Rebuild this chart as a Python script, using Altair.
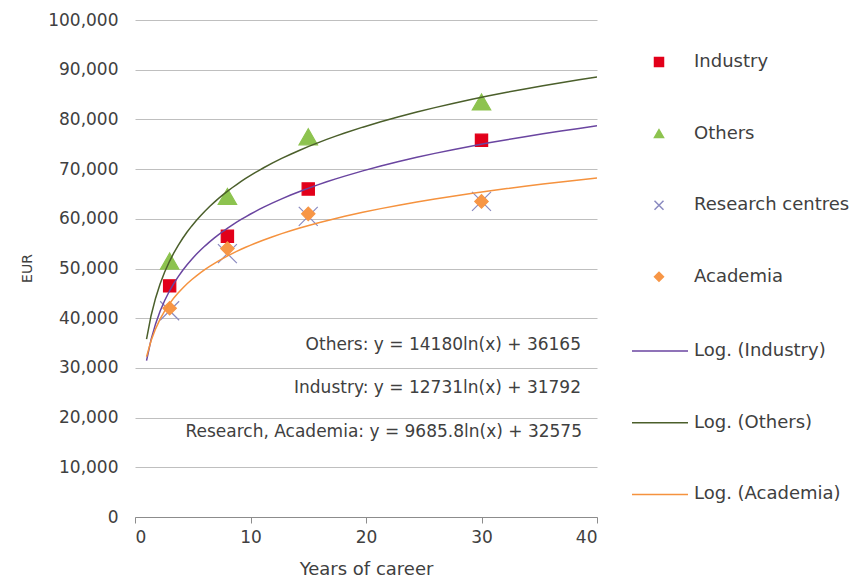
import altair as alt
import pandas as pd

# ---- data ----
years = [3, 8, 15, 30]
industry = [46500, 56500, 66000, 75800]
others = [51500, 64500, 76500, 83500]
research_centres = [41500, 53000, 60500, 63500]
academia = [42000, 54000, 61000, 63500]

series_names = ["Industry", "Others", "Research centres", "Academia"]
series_trend = ["Log. (Industry)", "Log. (Others)", "Log. (Academia)", "Log. (Academia)"]
trend_names = ["Log. (Industry)", "Log. (Others)", "Log. (Academia)"]
equation_labels = [
    "Others: y = 14180ln(x) + 36165",
    "Industry: y = 12731ln(x) + 31792",
    "Research, Academia: y = 9685.8ln(x) + 32575",
]
x_ticks = [0, 10, 20, 30, 40]
y_ticks = [0, 10000, 20000, 30000, 40000, 50000, 60000, 70000, 80000, 90000, 100000]

rows = []
for name, trend, vals in zip(series_names, series_trend,
                             [industry, others, research_centres, academia]):
    for yr, v in zip(years, vals):
        rows.append({"series": name, "trend": trend, "year": yr, "value": v})
df = pd.DataFrame(rows)

# ---- styles ----
FONT = "DejaVu Sans"
TXT = "#404040"
marker_colors = ["#E2001A", "#8DC34F", "#8A8AC0", "#F79646"]
marker_shapes = ["square", "triangle-up", "M-1,-1L1,1M-1,1L1,-1", "diamond"]
marker_sizes = [150, 340, 360, 180]
line_colors = ["#6A45A0", "#4B5F2B", "#F5923E"]

x_enc = alt.X("year:Q",
              scale=alt.Scale(domain=[0, 40], nice=False),
              axis=alt.Axis(values=x_ticks, grid=False, title="Years of career",
                            domainColor="#8C8C8C", tickColor="#8C8C8C", tickSize=6,
                            labelPadding=6, labelFont=FONT, labelFontSize=17,
                            labelColor=TXT, titleFont=FONT, titleFontSize=18,
                            titleFontWeight="normal", titleColor=TXT,
                            titleBaseline="alphabetic", titleY=57))
y_enc = alt.Y("value:Q",
              scale=alt.Scale(domain=[0, 100000], nice=False),
              axis=alt.Axis(values=y_ticks, format=",.0f", grid=True, gridColor="#BFBFBF",
                            ticks=False, domain=False, labelPadding=17,
                            labelFont=FONT, labelFontSize=17, labelColor=TXT,
                            title="EUR", titleFont=FONT, titleFontSize=14,
                            titleFontWeight="normal", titleColor=TXT,
                            titleX=-101, titleY=248))

leg_points = alt.Legend(title=None, orient="none", legendX=515, legendY=33,
                        padding=0, symbolSize=81, symbolStrokeWidth=1.5,
                        labelFont=FONT, labelFontSize=18, labelColor=TXT,
                        labelOffset=26, rowPadding=53.6)
leg_lines = alt.Legend(title=None, orient="none", legendX=516, legendY=322,
                       padding=0, symbolType="M-28,0L28,0", symbolSize=4,
                       symbolStrokeWidth=1.5, labelFont=FONT, labelFontSize=18,
                       labelColor=TXT, labelOffset=25, rowPadding=53.7)

base = alt.Chart(df)

fill_enc = alt.Fill("series:N", scale=alt.Scale(domain=series_names, range=marker_colors),
                    legend=leg_points)
stroke_enc = alt.Stroke("series:N", scale=alt.Scale(domain=series_names, range=marker_colors),
                        legend=leg_points)
shape_enc = alt.Shape("series:N", scale=alt.Scale(domain=series_names, range=marker_shapes),
                      legend=leg_points)

point_layers = []
for name, size in zip(series_names, marker_sizes):
    point_layers.append(
        base.transform_filter(alt.datum.series == name)
        .mark_point(opacity=1, strokeWidth=1.2, size=size)
        .encode(x=x_enc, y=y_enc, fill=fill_enc, stroke=stroke_enc, shape=shape_enc)
    )

lines = base.transform_regression(
    "year", "value", groupby=["trend"], method="log", extent=[1, 40]
).mark_line(strokeWidth=1.5, clip=True).encode(
    x="year:Q", y="value:Q",
    color=alt.Color("trend:N", scale=alt.Scale(domain=trend_names, range=line_colors),
                    legend=leg_lines),
)

ann_pos = [(446, 325), (446, 368), (447, 412)]
anns = []
for label, (px, py) in zip(equation_labels, ann_pos):
    anns.append(
        alt.Chart(pd.DataFrame({"label": [label]})).mark_text(
            align="right", baseline="middle", font=FONT, fontSize=17, color=TXT
        ).encode(x=alt.value(px), y=alt.value(py), text="label:N")
    )

chart = alt.layer(*point_layers, lines, *anns).properties(
    width=462, height=497,
    autosize=alt.AutoSizeParams(type="none"),
    padding={"left": 135, "top": 20, "right": 265, "bottom": 64},
    background="white",
).configure_view(stroke=None)

chart.save("out.html", embed_options={"renderer": "svg", "actions": False})
